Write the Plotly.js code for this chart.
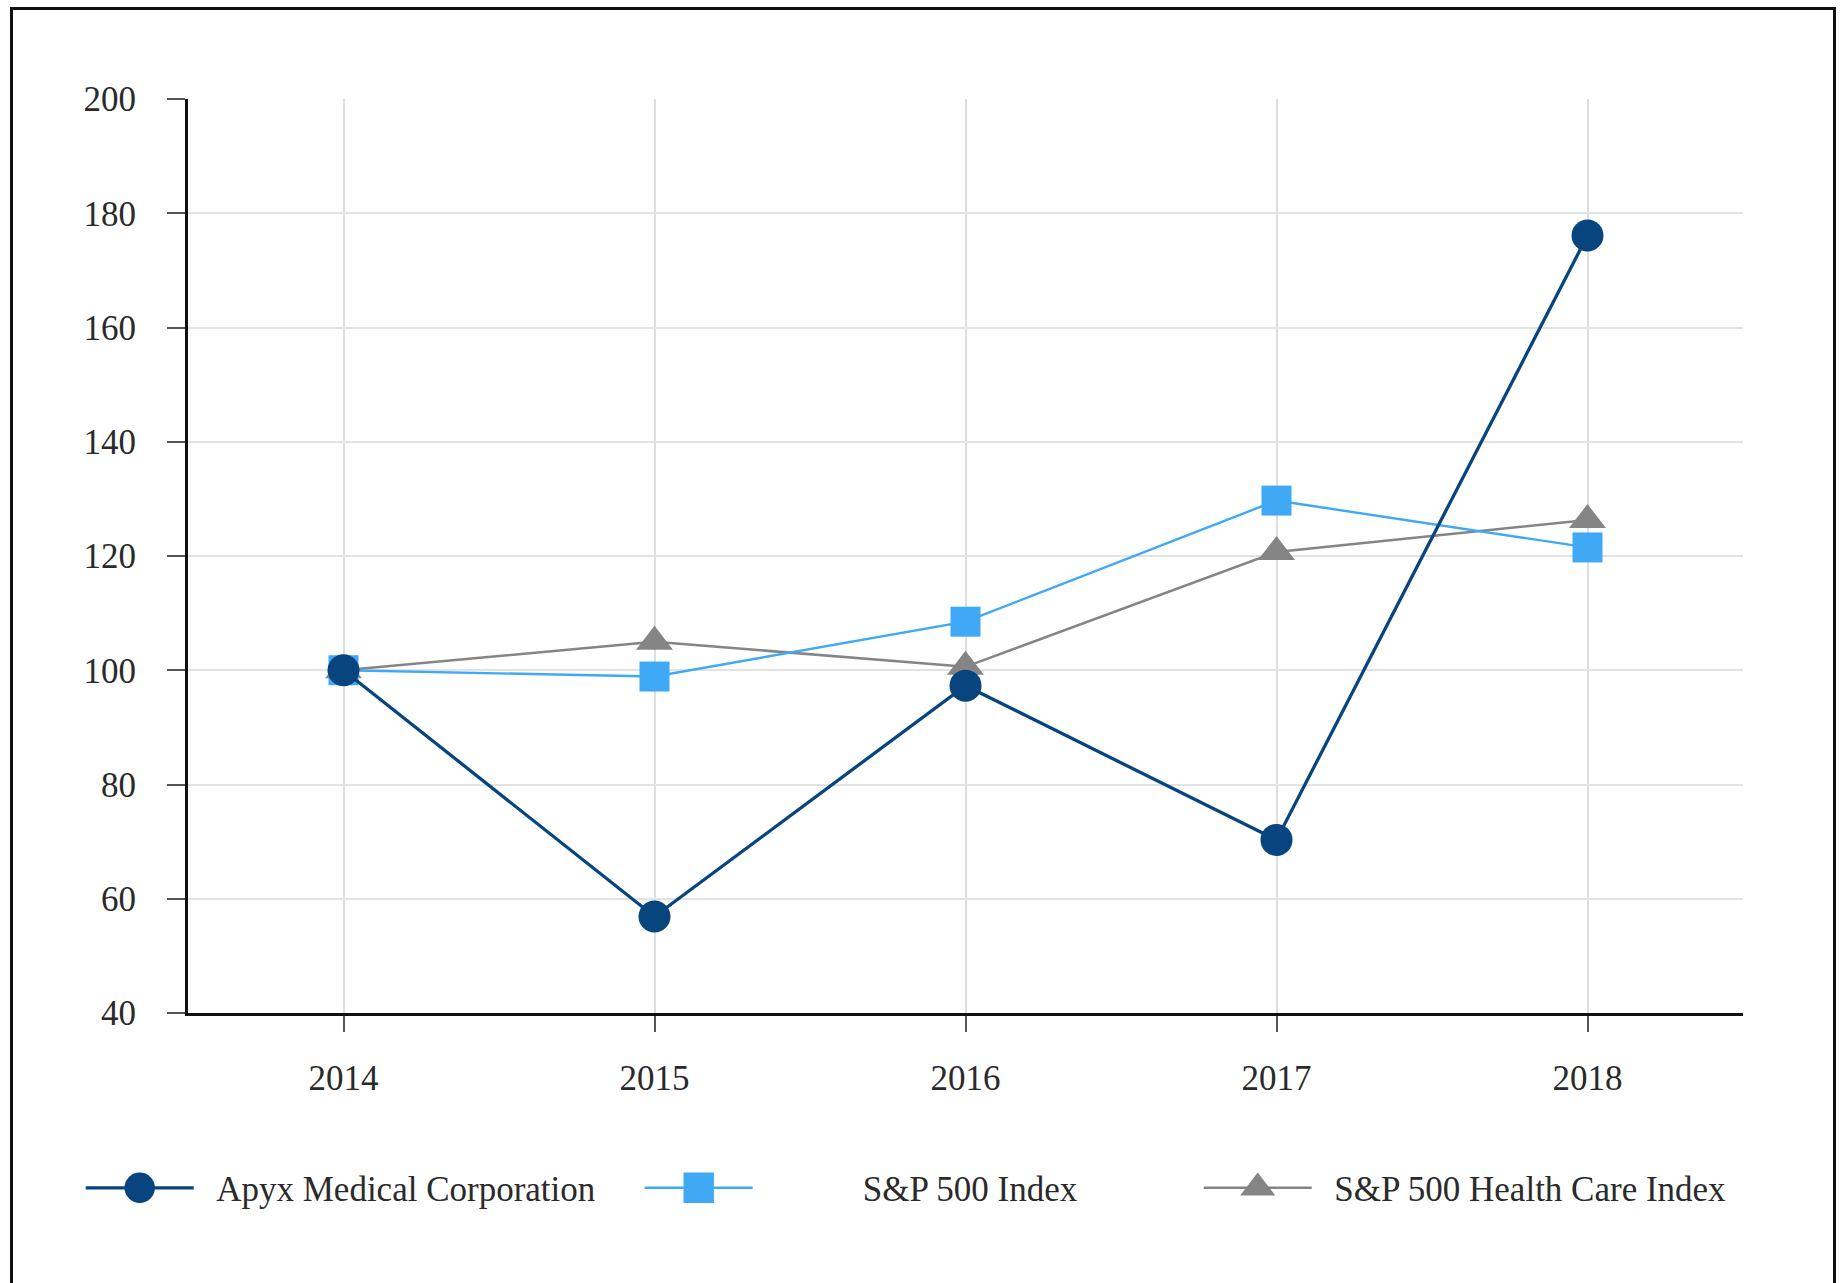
<!DOCTYPE html>
<html>
<head>
<meta charset="utf-8">
<script src="https://cdn.plot.ly/plotly-3.0.1.min.js"></script>
<style>
  html, body { margin: 0; padding: 0; background: #fff; }
  #chart { position: absolute; left: 0; top: 0; width: 1841px; height: 1283px; }
  #frame { position: absolute; left: 10px; top: 7px; width: 1820px; height: 1290px;
           border-left: 3px solid #111; border-right: 3px solid #111; border-top: 3px solid #111;
           pointer-events: none; }
</style>
</head>
<body>
<div id="chart"></div>
<div id="frame"></div>
<script>
const years = ['2014', '2015', '2016', '2017', '2018'];
const apyx = [100, 56.9, 97.3, 70.3, 176.1];
const sp500 = [100, 98.9, 108.5, 129.7, 121.5];
const healthCare = [100, 105.0, 100.6, 120.7, 126.3];
const seriesNames = ['Apyx Medical Corporation', 'S&P 500 Index', 'S&P 500 Health Care Index'];
const yTicks = [40, 60, 80, 100, 120, 140, 160, 180, 200];

const NB = '\u00A0';
const traces = [
  {
    x: years, y: healthCare, name: NB.repeat(2) + seriesNames[2], type: 'scatter', mode: 'lines+markers',
    line: { color: '#858585', width: 2.5 },
    marker: { symbol: 'triangle-up', size: 32, color: '#858585' }
  },
  {
    x: years, y: sp500, name: NB.repeat(12) + seriesNames[1], type: 'scatter', mode: 'lines+markers',
    line: { color: '#3fa9f5', width: 2.4 },
    marker: { symbol: 'square', size: 30, color: '#3fa9f5' }
  },
  {
    x: years, y: apyx, name: NB.repeat(2) + seriesNames[0], type: 'scatter', mode: 'lines+markers',
    line: { color: '#08457f', width: 3.3 },
    marker: { symbol: 'circle', size: 32, color: '#08457f' }
  }
];

const font = { family: '"Liberation Serif", "Times New Roman", serif', size: 35, color: '#2a2a2a' };

const layout = {
  width: 1841, height: 1283,
  margin: { l: 188, r: 98, t: 99, b: 270 },
  paper_bgcolor: '#ffffff', plot_bgcolor: '#ffffff',
  font: font,
  showlegend: true,
  legend: {
    orientation: 'h', traceorder: 'reversed',
    x: -0.069, xanchor: 'left', y: -0.1915, yanchor: 'middle',
    entrywidth: 436, entrywidthmode: 'pixels',
    itemwidth: 108, itemsizing: 'trace',
    font: font, bgcolor: 'rgba(0,0,0,0)'
  },
  xaxis: {
    type: 'category', range: [-0.5, 4.5],
    showgrid: true, gridcolor: '#dedede', gridwidth: 2,
    showline: true, linecolor: '#111', linewidth: 3,
    ticks: 'outside', ticklen: 16, tickwidth: 2, tickcolor: '#555',
    ticklabelstandoff: 16, tickfont: font, zeroline: false, fixedrange: true
  },
  yaxis: {
    range: [40, 200], tickvals: yTicks, ticktext: yTicks.map(String),
    showgrid: true, gridcolor: '#e3e3e3', gridwidth: 2,
    showline: true, linecolor: '#111', linewidth: 3,
    ticks: 'outside', ticklen: 18, tickwidth: 2, tickcolor: '#555',
    ticklabelstandoff: 24, tickfont: font, zeroline: false, fixedrange: true
  }
};

Plotly.newPlot('chart', traces, layout, { displayModeBar: false, staticPlot: true }).then(function () {
  document.querySelectorAll('#chart .legendpoints path').forEach(function (p) {
    const t = p.getAttribute('transform') || '';
    p.setAttribute('transform', t + ' scale(1.9)');
  });
});
</script>
</body>
</html>
